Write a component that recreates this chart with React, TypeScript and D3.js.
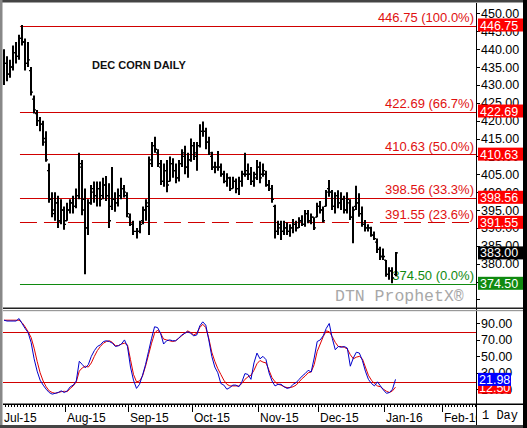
import React from 'react';
import * as d3 from 'd3';

// ---- DATA ----
const highs = [440,438,437,441,442,444,446.75,443,442,435,427,423,421,420,417,408,400,400,399,398,396,397,398,399,401,411,409,401,398,402,403,403,403,404,404.5,402.5,407,400,401,404,402,400,394,392,390,392,396,398,410,414,415.5,412,409,408,409,410,409.5,408,409,412,413,411,415,414,414,419,419.75,418,415.5,411.3,408.5,411.5,408,406,405.3,404.3,404.3,403.8,404.3,406,411,408,407,405.7,409,408.5,408,406,403.4,402,396.5,392,392,392,391.5,391,392.5,392,393,393.5,395,395,394,393,397,397.5,396,400.6,403.4,400.6,400,400.5,400,399,400,398,396,401.8,399.7,396,392.2,391,390.3,389,387,384.7,384.2,381,379,379,383.25];
const lows = [430,431,432,434,436,437,441,434,435,427,422,418.5,417,413,408.5,397,393,392,390,391,389.5,392,394,394,395.5,398,393.5,377,388,396.5,397,396,396,398,397.5,390,395,394.5,396,398,398.5,393,390.5,388,387,388.5,391,392,388,407,411,407,402,401.5,400,403,404,402.5,403,407,405,404,408.5,409,406,412.5,415.5,412,410.4,406.2,405.3,406,404.3,402.5,401.5,400.3,401,399.7,399.2,401.5,404.3,403.4,402,401.5,403.4,402.5,404.3,401.5,400.3,397,387,388,386.6,388,388,387.5,388.5,389,390,390.5,390.3,391.3,391,389.4,393,394,391.5,396,398.7,395,394,395.5,395,394,394,392.2,385.7,395,393.1,390.3,389,389,387.5,386.6,383,381,381,376.3,375.5,374.5,376.5];
const opens = [432,436,433,435,439,438,443,442,436,434,426,422,420,419,415,406,398,394,397,392,395,392,395,397,396,399,407,398,390,397,401,399,401,399,402,399,396,398,397,399,401,399,393,391,389,389,392,395,396,408,413,411,407,403,406,403,408,406,404,408,411,407,409,413,410,413,417,417,414,410,407,407,407,405,403,404,401,403,401,403,405,406,405,403,404,407,405,405,402,401,396,389,391,389,390,389,390,391,390,392,391,394,392,393,393,396,395,396,401,400,396,399,397,398,395,397,393,396,397,394,391,390,390,388,386,384,382,381,377,378,377];
const closes = [436,433,435,439,438,443,442,436,437,428,423,420,419,414,409,398,395,397,392,395,391,395,397,396,399,408,395,390,397,400,399,401,398,402,399,392,398,397,399,401,400,394,391,389,389,391,395,397,409,413,412,408,403,406,402,408,406,404,408,410,407,409,413,411,413,417,417,414,411,407,407,407,405,403,404,401,403,401,403,405,405,405,403,405,407,404,406,402,401,398,389,390,389,390,389,390,391,390,392,391,394,392,393,390,396,395,392,400,400,396,399,397,398,395,398,393,395,397,394,391,390,390,388,387,384,382,382,377,378,376,383];
const stochK = [94,93,93,93,93,96,90,84,79,67,47,32,21,15,10,6,4,5,6,8,6,8,13,15,20,44,40,36,40,50,57,62,64,68,69,68,66,62,63,65,70,62,37,21,11,16,27,40,56,72,86,85,78,65,69,70,69,69,72,76,78,80,78,75,76,87,92,88,70,50,37,30,17,15,10,12,15,15,13,19,29,28,22,42,54,47,50,46,30,20,14,16,16,13,11,12,16,18,22,26,29,33,31,48,68,70,75,84,90,72,58,62,61,62,60,38,48,55,54,45,32,22,17,14,19,14,9,5,6,10,21.98];
const stochD = [94,94,94,94,94,94,91,86,80,73,60,44,30,20,13,8,6,5,6,7,7.5,7,11,14,19,32,36,38,37,42,50,57,62,66,68,69,67,63,63,65,66,64,46,28,19,20,26,38,52,66,78,82,78,71,70,69,68,69,72,75,78,81,79,76,78,85,89,85,72,55,44,35,28,21,16,14,14,14,14,17,22,25,27,33,41,45,43,42,33,24,19,16,15,13,12,12,13,15,19,23,26,30,31,40,56,65,74,81,80,74,67,62,62,61,59,52,47,49,50,47,37,27,21,17,14,13,10,7.5,6,8,12.5];

const fibLevels = [446.75, 422.69, 410.63, 398.56, 391.55, 374.5];
const fibPcts = ['100.0%', '66.7%', '50.0%', '33.3%', '23.6%', '0.0%'];
const priceTicks = [450,445,440,435,430,425,420,415,410,405,400,395,390,385,380,375,370];
const stochTicks = [90, 70, 50, 30, 10];
const stochLevels = [80, 20];
const monthIdx = [0, 21, 42, 63, 85, 105, 127, 146];
const monthLabels = ['Jul-15', 'Aug-15', 'Sep-15', 'Oct-15', 'Nov-15', 'Dec-15', 'Jan-16', 'Feb-16'];
const lastPrice = 383.0;
const fibStartIdx = 5.3;
const title = 'DEC CORN DAILY';

// ---- LAYOUT ----
const W = 527, H = 428;
const PL = 3, PR = 476, PT = 3, PB = 308;
const ST = 311, SB = 404;
const FB = 425;
const SANS = '"Liberation Sans", Arial, sans-serif';
const MONO = '"Liberation Mono", "DejaVu Sans Mono", monospace';

const x = d3.scaleLinear().domain([0, 130]).range([4, 395.5]);
const y = d3.scaleLinear().domain([374.5, 446.75]).range([283.3, 25]);
const ys = d3.scaleLinear().domain([20, 80]).range([381, 331.7]);
// snap a horizontal rule to a crisp pixel row
const snap = (v: number) => Math.round(v / 2) * 2 + 0.5;

const RED_LINE = '#d00000';
const RED_TXT = '#e01010';
const GREEN = '#108a10';

export default function App() {
  const n = highs.length;
  const idx = d3.range(n);
  const lineK = d3.line<number>().x((_, i) => x(i)).y(d => ys(d));
  const minorTicks = d3.range(0, 158);

  const priceBox = (v: number, fill: string, key: string) => {
    const cy = y(v);
    return (
      <g key={key}>
        <rect x={478} y={cy - 6.5} width={45} height={13} fill={fill} />
        <text x={480} y={cy + 4.5} fontFamily={SANS} fontSize={12.5} fill="#fff">{v.toFixed(2)}</text>
      </g>
    );
  };

  const kLast = stochK[n - 1];
  const dLast = stochD[n - 1];

  return (
    <svg width={W} height={H} style={{ position: 'absolute', left: 0, top: 0, background: '#fff' }}>
      <defs>
        <clipPath id="mainClip"><rect x={PL} y={PT} width={PR - PL} height={PB - PT} /></clipPath>
        <clipPath id="stClip"><rect x={PL} y={ST} width={PR - PL} height={SB - ST} /></clipPath>
        <clipPath id="axClip"><rect x={PL} y={SB} width={PR - PL} height={FB - SB} /></clipPath>
      </defs>
      <rect x={0} y={0} width={W} height={H} fill="#fff" />

      {/* Fibonacci lines */}
      <g clipPath="url(#mainClip)">
        {fibLevels.map((v, i) => (
          <line key={'f' + i} x1={x(fibStartIdx)} x2={PR} y1={snap(y(v))} y2={snap(y(v))}
            stroke={i === fibLevels.length - 1 ? GREEN : RED_LINE} strokeWidth={1.2}
            strokeDasharray={i === 4 ? '17,7' : undefined} />
        ))}
        {fibLevels.map((v, i) => (
          <text key={'fl' + i} x={PR - 2} y={y(v) - 3} textAnchor="end" fontFamily={SANS} fontSize={13}
            fill={i === fibLevels.length - 1 ? GREEN : RED_TXT}>{`${v.toFixed(2)} (${fibPcts[i]})`}</text>
        ))}
        <text x={92} y={69} fontFamily={SANS} fontSize={11} fontWeight="bold" fill="#111">{title}</text>
        {/* OHLC bars */}
        {idx.map(i => {
          const cx = Math.round(x(i));
          return (
            <g key={'b' + i} stroke="#000">
              <line x1={cx} x2={cx} y1={y(highs[i])} y2={y(lows[i])} strokeWidth={2} />
              <line x1={cx - 2} x2={cx} y1={y(opens[i])} y2={y(opens[i])} strokeWidth={1.3} />
              <line x1={cx} x2={cx + 2} y1={y(closes[i])} y2={y(closes[i])} strokeWidth={1.3} />
            </g>
          );
        })}
        <text x={335} y={301} fontFamily={MONO} fontSize={16.5} fill="#a8a8a8">DTN ProphetX®</text>
      </g>

      {/* Price axis */}
      {priceTicks.map(t => (
        <g key={'pt' + t}>
          <line x1={PR} x2={PR + 4} y1={Math.round(y(t)) + 0.5} y2={Math.round(y(t)) + 0.5} stroke="#000" />
          {t >= 375 && (
            <text x={481} y={y(t) + 4.5} fontFamily={SANS} fontSize={12.5} fill="#000">{t.toFixed(2)}</text>
          )}
        </g>
      ))}
      {fibLevels.map((v, i) => priceBox(v, i === fibLevels.length - 1 ? GREEN : '#ff0000', 'pb' + i))}
      {priceBox(lastPrice, '#000', 'last')}

      {/* Stochastic panel */}
      <g clipPath="url(#stClip)">
        {stochLevels.map(l => (
          <line key={'sl' + l} x1={PL} x2={PR} y1={snap(ys(l))} y2={snap(ys(l))} stroke={RED_LINE} strokeWidth={1.2} />
        ))}
        <path d={lineK(stochD) || ''} fill="none" stroke="#e00000" strokeWidth={1} />
        <path d={lineK(stochK) || ''} fill="none" stroke="#0000cc" strokeWidth={1} />
      </g>
      {stochTicks.map(t => (
        <g key={'st' + t}>
          <line x1={PR} x2={PR + 4} y1={Math.round(ys(t)) + 0.5} y2={Math.round(ys(t)) + 0.5} stroke="#000" />
          <text x={481} y={ys(t) + 4.5} fontFamily={SANS} fontSize={12.5} fill="#000">{t.toFixed(2)}</text>
        </g>
      ))}
      <g>
        <rect x={478} y={ys(dLast) - 6.5} width={33} height={13} fill="#ff0000" />
        <text x={479} y={ys(dLast) + 4.5} fontFamily={SANS} fontSize={12.5} fill="#fff">{dLast.toFixed(2)}</text>
        <rect x={478} y={ys(kLast) - 6.5} width={33} height={13} fill="#0000ff" />
        <text x={479} y={ys(kLast) + 4.5} fontFamily={SANS} fontSize={12.5} fill="#fff">{kLast.toFixed(2)}</text>
      </g>

      {/* X axis */}
      <rect x={PL} y={SB - 0.5} width={523 - PL} height={1.5} fill="#000" />
      <g clipPath="url(#axClip)">
        {minorTicks.map(i => (
          <line key={'mt' + i} x1={Math.round(x(i)) - 1.5} x2={Math.round(x(i)) - 1.5} y1={SB} y2={SB + 3} stroke="#000" />
        ))}
        {monthIdx.map((m, k) => (
          <g key={'m' + k}>
            <line x1={Math.round(x(m)) - 1.5} x2={Math.round(x(m)) - 1.5} y1={SB} y2={SB + 8} stroke="#000" />
            <text x={Math.round(x(m))} y={422} fontFamily={SANS} fontSize={12} fill="#000">{monthLabels[k]}</text>
          </g>
        ))}
      </g>
      <text x={482} y={419} fontFamily={MONO} fontSize={12} fill="#000">1 Day</text>

      {/* Separators and frame */}
      <line x1={PR + 0.5} x2={PR + 0.5} y1={PT} y2={FB} stroke="#000" />
      <rect x={PL} y={307.5} width={523 - PL} height={1.5} fill="#222" />
      <rect x={PL} y={310} width={523 - PL} height={1.2} fill="#999" />
      <rect x={0} y={0} width={W} height={2.5} fill="#444" />
      <rect x={0} y={0} width={2.5} height={H} fill="#888" />
      <rect x={0} y={FB} width={W} height={H - FB} fill="#444" />
      <rect x={523} y={0} width={4} height={H} fill="#000" />
    </svg>
  );
}
